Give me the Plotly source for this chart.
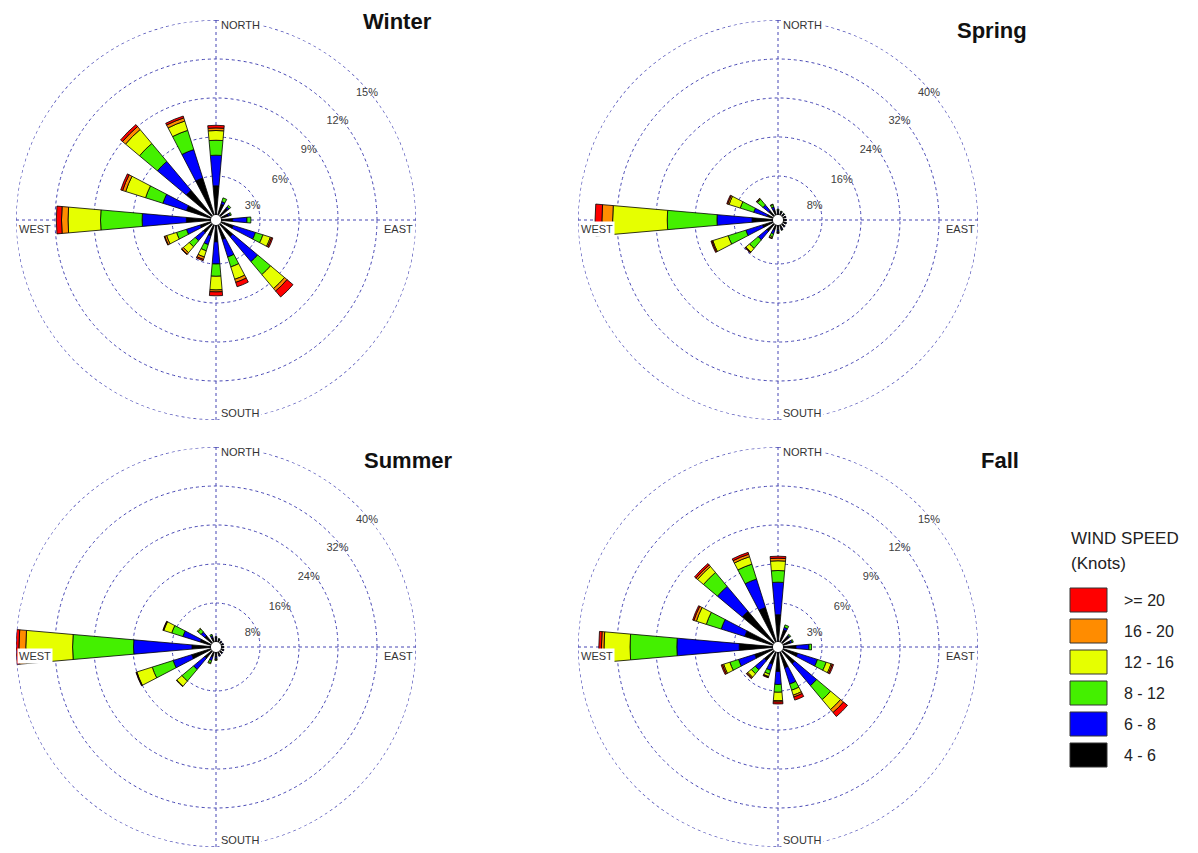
import numpy as np
import plotly.graph_objects as go

# ---------------- data ----------------
directions = ["N", "NNE", "NE", "ENE", "E", "ESE", "SE", "SSE",
              "S", "SSW", "SW", "WSW", "W", "WNW", "NW", "NNW"]
direction_deg = [i * 22.5 for i in range(16)]
speed_bins = ["4 - 6", "6 - 8", "8 - 12", "12 - 16", "16 - 20", ">= 20"]
bin_colors = ["#000000", "#0000FF", "#44F000", "#E6FF00", "#FF8C00", "#FF0000"]
seasons = ["Winter", "Spring", "Summer", "Fall"]

# cumulative frequency (%) at the outer edge of each speed band, per direction
winter_4_6 = [2.25, 0.9, 0.8, 0.6, 0.9, 1.0, 1.3, 1.2, 1.3, 0.9, 0.9, 0.9, 1.9, 2.0, 2.6, 3.0]
winter_6_8 = [4.6, 1.1, 0.95, 0.75, 2.0, 2.8, 3.8, 2.6, 3.0, 1.6, 1.7, 2.0, 5.3, 3.9, 5.5, 5.3]
winter_8_12 = [5.75, 1.4, 1.1, 0.85, 2.3, 3.4, 5.1, 3.4, 3.95, 2.1, 2.3, 2.8, 8.5, 5.3, 7.3, 6.85]
winter_12_16 = [6.5, 1.4, 1.1, 0.85, 2.3, 4.0, 6.5, 4.4, 5.0, 2.6, 2.9, 3.6, 11.0, 6.9, 8.7, 7.6]
winter_16_20 = [6.7, 1.4, 1.1, 0.85, 2.3, 4.1, 6.75, 4.65, 5.15, 2.8, 3.05, 3.75, 11.5, 7.15, 9.0, 7.85]
winter_20p = [6.9, 1.4, 1.1, 0.85, 2.3, 4.2, 7.35, 5.0, 5.45, 2.9, 3.1, 3.8, 11.9, 7.3, 9.2, 8.0]

spring_4_6 = [0.8, 0.7, 0.6, 0.6, 0.6, 0.7, 0.8, 0.9, 1.0, 1.2, 2.0, 2.3, 4.3, 1.3, 1.5, 1.2]
spring_6_8 = [1.0, 0.8, 0.7, 0.7, 0.7, 0.8, 0.9, 1.1, 1.4, 2.0, 4.3, 5.9, 11.5, 4.2, 3.0, 1.8]
spring_8_12 = [1.2, 0.9, 0.8, 0.7, 0.7, 0.8, 0.9, 1.2, 1.6, 2.6, 6.6, 9.7, 21.7, 7.1, 4.5, 2.3]
spring_12_16 = [1.2, 0.9, 0.8, 0.7, 0.7, 0.8, 0.9, 1.2, 1.6, 2.9, 7.6, 13.0, 32.9, 9.5, 4.7, 2.4]
spring_16_20 = [1.2, 0.9, 0.8, 0.7, 0.7, 0.8, 0.9, 1.2, 1.6, 2.9, 7.7, 13.2, 35.1, 9.8, 4.7, 2.4]
spring_20p = [1.2, 0.9, 0.8, 0.7, 0.7, 0.8, 0.9, 1.2, 1.7, 3.0, 7.8, 13.4, 36.5, 10.0, 4.8, 2.4]

summer_4_6 = [0.8, 0.6, 0.5, 0.5, 0.5, 0.6, 0.7, 0.8, 1.0, 1.2, 2.0, 4.2, 3.9, 2.4, 2.0, 1.0]
summer_6_8 = [1.0, 0.7, 0.6, 0.6, 0.6, 0.7, 0.8, 1.0, 1.4, 1.9, 5.0, 8.2, 15.9, 6.1, 3.0, 1.4]
summer_8_12 = [1.1, 0.8, 0.6, 0.6, 0.6, 0.7, 0.8, 1.0, 1.6, 2.4, 8.1, 12.7, 28.4, 8.5, 3.8, 1.7]
summer_12_16 = [1.1, 0.8, 0.6, 0.6, 0.6, 0.7, 0.8, 1.0, 1.7, 2.6, 9.5, 16.0, 38.0, 10.2, 4.0, 1.7]
summer_16_20 = [1.1, 0.8, 0.6, 0.6, 0.6, 0.7, 0.8, 1.0, 1.7, 2.6, 9.6, 16.1, 39.4, 10.3, 4.0, 1.7]
summer_20p = [1.1, 0.8, 0.6, 0.6, 0.6, 0.7, 0.8, 1.0, 1.7, 2.6, 9.6, 16.2, 40.0, 10.4, 4.0, 1.7]

fall_4_6 = [2.1, 1.0, 0.7, 0.6, 1.0, 1.2, 1.3, 1.3, 1.5, 1.0, 1.0, 1.5, 2.6, 2.3, 3.2, 2.8]
fall_6_8 = [4.6, 1.2, 0.8, 0.75, 2.0, 2.8, 3.5, 2.6, 2.5, 1.5, 1.9, 2.8, 7.4, 4.2, 5.7, 5.1]
fall_8_12 = [5.5, 1.4, 0.9, 0.85, 2.2, 3.5, 4.9, 3.1, 3.1, 1.8, 2.3, 3.5, 11.0, 5.4, 7.1, 6.3]
fall_12_16 = [6.25, 1.4, 0.9, 0.85, 2.2, 3.9, 5.9, 3.5, 3.75, 2.0, 2.65, 4.0, 13.0, 6.2, 7.7, 6.9]
fall_16_20 = [6.45, 1.4, 0.9, 0.85, 2.2, 4.0, 6.2, 3.65, 3.85, 2.05, 2.75, 4.1, 13.2, 6.4, 7.85, 7.1]
fall_20p = [6.6, 1.4, 0.9, 0.85, 2.2, 4.1, 6.6, 3.9, 4.0, 2.1, 2.8, 4.2, 13.4, 6.5, 8.0, 7.25]

winter_ticks = [3, 6, 9, 12, 15]
spring_ticks = [8, 16, 24, 32, 40]
summer_ticks = [8, 16, 24, 32, 40]
fall_ticks = [3, 6, 9, 12, 15]

season_data = {
    "Winter": ([winter_4_6, winter_6_8, winter_8_12, winter_12_16, winter_16_20, winter_20p], winter_ticks),
    "Spring": ([spring_4_6, spring_6_8, spring_8_12, spring_12_16, spring_16_20, spring_20p], spring_ticks),
    "Summer": ([summer_4_6, summer_6_8, summer_8_12, summer_12_16, summer_16_20, summer_20p], summer_ticks),
    "Fall": ([fall_4_6, fall_6_8, fall_8_12, fall_12_16, fall_16_20, fall_20p], fall_ticks),
}

# ---------------- layout helpers ----------------
W, H = 1198, 853
PAGE_OFFSET = 8  # default body margin of the html page
FONT = "Liberation Sans, Arial, sans-serif"
GRID = "#4646B4"
DASH = "3px,3px"
R_PX = 200
centers = {"Winter": (216, 220), "Spring": (778, 220), "Summer": (216, 647), "Fall": (778, 647)}
title_offsets = {"Winter": (182, -198), "Spring": (214, -190), "Summer": (192, -187), "Fall": (222, -187)}


def px(x):
    return (x - PAGE_OFFSET) / W


def py(y):
    return 1 - (y - PAGE_OFFSET) / H


fig = go.Figure()
annotations = []
shapes = []
label_theta = [69, 58, 53, 51, 50]
label_rfrac = [0.88, 0.9, 0.95, 0.97, 0.985]
ring_theta = np.linspace(0, 360, 721)

for i, season in enumerate(seasons):
    polar_name = "polar" if i == 0 else f"polar{i + 1}"
    cum, ticks = season_data[season]
    cum = np.array(cum)
    inc = np.diff(np.vstack([np.zeros(16), cum]), axis=0)
    # outer dotted ring (the grid line at the end of the radial range)
    fig.add_trace(go.Scatterpolar(
        r=np.full(ring_theta.shape, ticks[-1]), theta=ring_theta, mode="lines",
        line=dict(color=GRID, width=1.3, dash=DASH),
        showlegend=False, subplot=polar_name, hoverinfo="skip", cliponaxis=False,
    ))
    for b in range(len(speed_bins)):
        fig.add_trace(go.Barpolar(
            r=inc[b], theta=direction_deg, width=10,
            marker=dict(color=bin_colors[b], line=dict(color="black", width=0.8)),
            name=speed_bins[b], showlegend=False, subplot=polar_name,
        ))
    fig.add_trace(go.Scatterpolar(
        r=[t * f for t, f in zip(ticks, label_rfrac)], theta=label_theta,
        mode="text", text=[f"{t}%" for t in ticks],
        textfont=dict(family=FONT, size=11, color="#404040"),
        showlegend=False, subplot=polar_name, hoverinfo="skip", cliponaxis=False,
    ))
    cx, cy = centers[season]
    fig.update_layout(**{polar_name: dict(
        domain=dict(x=[px(cx - R_PX), px(cx + R_PX)], y=[py(cy + R_PX), py(cy - R_PX)]),
        bgcolor="white",
        hole=0.025,
        barmode="stack",
        radialaxis=dict(range=[0, ticks[-1]], tickvals=ticks, showticklabels=False,
                        ticks="", showline=False, gridcolor=GRID, gridwidth=1.3,
                        griddash=DASH),
        angularaxis=dict(rotation=90, direction="clockwise", tickvals=[0, 90, 180, 270],
                         showticklabels=False, ticks="", showline=False,
                         gridcolor=GRID, gridwidth=1.3, griddash=DASH),
    )})
    # compass labels
    for txt, dx, dy, xa in [("NORTH", 3, -195, "left"), ("EAST", 199, 9, "right"),
                            ("SOUTH", 3, 193, "left"), ("WEST", -199, 9, "left")]:
        annotations.append(dict(x=px(cx + dx), y=py(cy + dy), xref="paper", yref="paper",
                                text=txt, showarrow=False, xanchor=xa, yanchor="middle",
                                bgcolor="white", borderpad=1,
                                font=dict(family=FONT, size=11, color="#333333")))
    tx, ty = title_offsets[season]
    annotations.append(dict(x=px(cx + tx), y=py(cy + ty), xref="paper", yref="paper",
                            text=f"<b>{season}</b>", showarrow=False, xanchor="center",
                            yanchor="middle", font=dict(family=FONT, size=22, color="#111111")))

# ---------------- legend (drawn) ----------------
annotations.append(dict(x=px(1069), y=py(538), xref="paper", yref="paper", text="WIND SPEED",
                        showarrow=False, xanchor="left", yanchor="middle",
                        font=dict(family=FONT, size=17, color="#222222")))
annotations.append(dict(x=px(1069), y=py(563), xref="paper", yref="paper", text="(Knots)",
                        showarrow=False, xanchor="left", yanchor="middle",
                        font=dict(family=FONT, size=17, color="#222222")))
row_y = [600, 631, 662, 693, 724, 755]
for k, b in enumerate(reversed(range(len(speed_bins)))):
    yc = row_y[k]
    shapes.append(dict(type="rect", xref="paper", yref="paper",
                       x0=px(1070), x1=px(1107), y0=py(yc + 12), y1=py(yc - 12),
                       fillcolor=bin_colors[b], line=dict(color="#333333", width=1)))
    annotations.append(dict(x=px(1122), y=py(yc), xref="paper", yref="paper", text=speed_bins[b],
                            showarrow=False, xanchor="left", yanchor="middle",
                            font=dict(family=FONT, size=16, color="#222222")))

fig.update_layout(
    width=W, height=H, margin=dict(l=0, r=0, t=0, b=0),
    paper_bgcolor="white", plot_bgcolor="white",
    annotations=annotations, shapes=shapes, showlegend=False,
    font=dict(family=FONT),
)

fig.write_html("out.html")
